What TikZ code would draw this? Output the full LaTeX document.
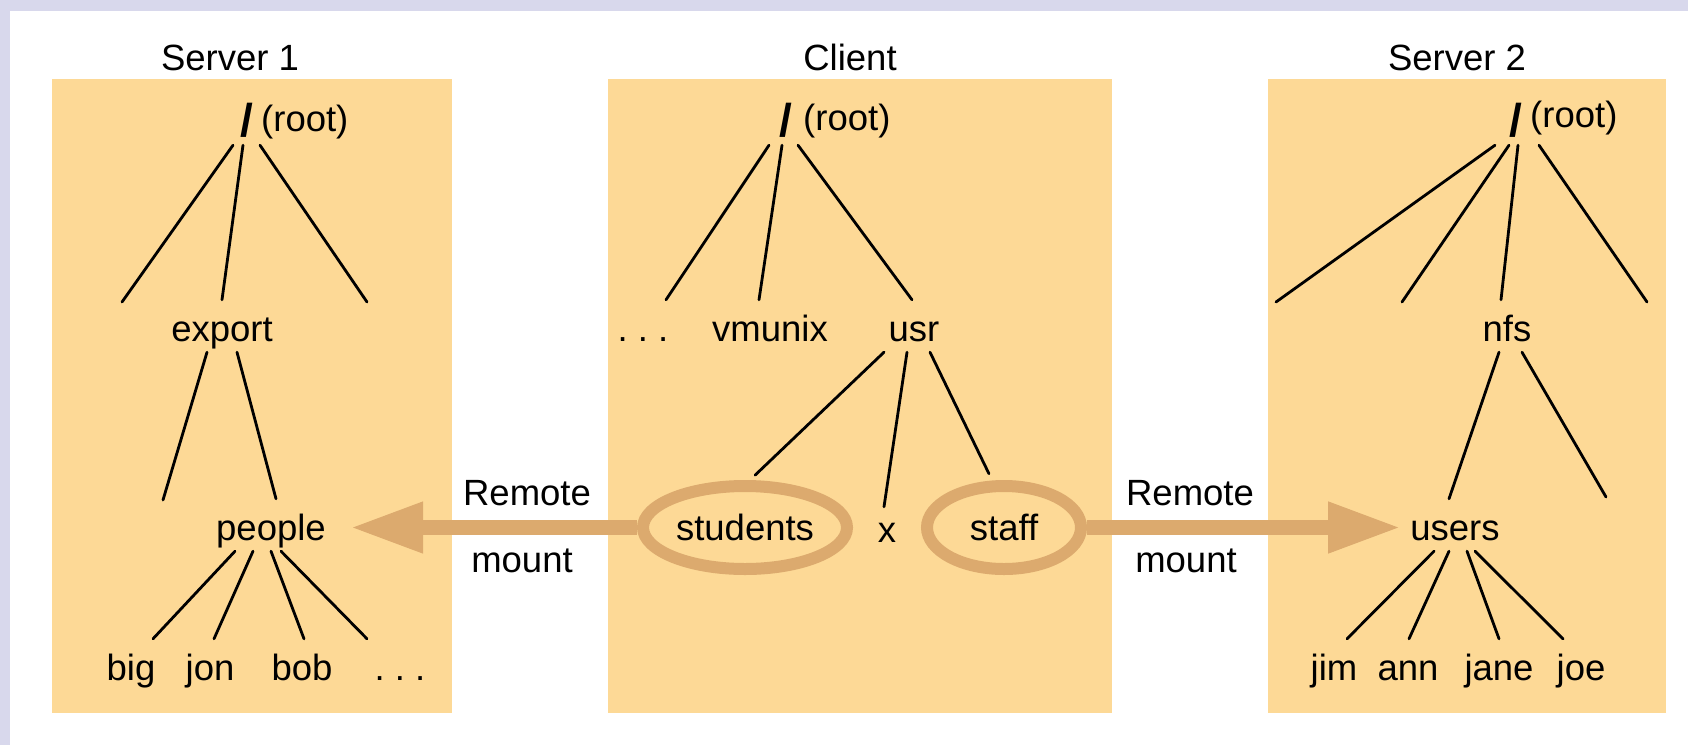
\documentclass[tikz,border=0pt]{standalone}
\usepackage{fontspec}
\setmainfont{Liberation Sans}
\usetikzlibrary{arrows.meta,shapes.geometric}
\definecolor{boxc}{RGB}{253,217,150}
\definecolor{ringc}{RGB}{220,170,110}
\definecolor{bgc}{RGB}{216,216,236}
\newcommand{\lblfont}{\fontsize{36.5}{44}\selectfont}
\newcommand{\slashfont}{\fontsize{46}{50}\selectfont\bfseries}
\begin{document}
\begin{tikzpicture}[x=1pt,y=-1pt,
  title/.style={anchor=base, inner sep=0pt, font=\lblfont},
  lbl/.style={anchor=base, inner xsep=0pt, inner ysep=11pt, text height=30pt, text depth=0pt, font=\lblfont},
  slashnode/.style={anchor=base, inner xsep=0pt, inner ysep=9pt, text height=30pt, text depth=0pt, font=\slashfont},
  rootlbl/.style={anchor=base west, inner sep=0pt, font=\lblfont},
  branch/.style={line width=2.8pt, line cap=round},
  ring/.style={ellipse, draw=ringc, line width=12pt, inner sep=0pt, font=\lblfont},
  mountarrow/.style={draw=ringc, line width=15pt, -{Triangle[length=70pt,width=52pt,line width=1pt]}},
  fsbox/.style={fill=boxc, draw=none}
]
\useasboundingbox (0,0) rectangle (1688,745);
\fill[bgc] (0,0) rectangle (1688,745);
\fill[white] (10,11) rectangle (1688,745);
\fill[fsbox] (52,79) rectangle (452,713);
\fill[fsbox] (608,79) rectangle (1112,713);
\fill[fsbox] (1268,79) rectangle (1666,713);

% titles
\node[title] (t1) at (230,70) {Server 1};
\node[title] (t2) at (850,70) {Client};
\node[title] (t3) at (1457,70) {Server 2};

% roots
\node[slashnode] (r1) at (247,136) {/};
\node[rootlbl] (r1l) at (261,131) {(root)};
\node[slashnode] (r2) at (786,136) {/};
\node[rootlbl] (r2l) at (803,130) {(root)};
\node[slashnode] (r3) at (1516,136) {/};
\node[rootlbl] (r3l) at (1530,127) {(root)};

% Server 1 tree
\node[lbl] (export) at (222,341) {export};
\node[lbl] (people) at (271,540) {people};
\node[lbl] (big) at (131,680) {big};
\node[lbl] (jon) at (210,680) {jon};
\node[lbl] (bob) at (302,680) {bob};
\node[lbl] (s1more) at (400,680) {.\ .\ .};
\coordinate (s1a) at (122,302);
\coordinate (s1b) at (367,302);
\coordinate (s1c) at (163,500);
\draw[branch] ([xshift=-14pt]r1.south) -- (s1a);
\draw[branch] ([xshift=-4pt]r1.south) -- (export.north);
\draw[branch] ([xshift=13pt]r1.south) -- (s1b);
\draw[branch] ([xshift=-15pt]export.south) -- (s1c);
\draw[branch] ([xshift=15pt]export.south) -- ([xshift=5pt]people.north);
\draw[branch] ([xshift=-36pt]people.south) -- ([xshift=22pt]big.north);
\draw[branch] ([xshift=-18pt]people.south) -- ([xshift=4pt]jon.north);
\draw[branch] (people.south) -- ([xshift=2pt]bob.north);
\draw[branch] ([xshift=10pt]people.south) -- ([xshift=-33pt]s1more.north);

% Client tree
\node[lbl] (cmore) at (643,341) {.\ .\ .};
\node[lbl] (vmunix) at (770,341) {vmunix};
\node[lbl] (usr) at (914,341) {usr};
\node[ring, minimum width=204pt, minimum height=83pt] (students) at (745,527.5) {students};
\node[lbl] (x) at (887,542) {x};
\node[ring, minimum width=154pt, minimum height=83pt] (staff) at (1004,527.5) {staff};
\draw[branch] ([xshift=-17pt]r2.south) -- ([xshift=23pt]cmore.north);
\draw[branch] ([xshift=-4pt]r2.south) -- ([xshift=-11pt]vmunix.north);
\draw[branch] ([xshift=12pt]r2.south) -- ([xshift=-2pt]usr.north);
\draw[branch, shorten >=7pt] ([xshift=-30pt]usr.south) -- ([xshift=5pt]students.north);
\draw[branch] ([xshift=-7pt]usr.south) -- ([xshift=-3pt,yshift=-6pt]x.north);
\draw[branch, shorten >=7pt] ([xshift=16pt]usr.south) -- ([xshift=-12pt]staff.north);

% Server 2 tree
\node[lbl] (nfs) at (1507,341) {nfs};
\node[lbl] (users) at (1455,540) {users};
\node[lbl] (jim) at (1334,680) {jim};
\node[lbl] (ann) at (1408,680) {ann};
\node[lbl] (jane) at (1499,680) {jane};
\node[lbl] (joe) at (1581,680) {joe};
\coordinate (s2a) at (1276,302);
\coordinate (s2b) at (1402,302);
\coordinate (s2c) at (1647,302);
\coordinate (s2d) at (1606,497);
\draw[branch] ([xshift=-21pt]r3.south) -- (s2a);
\draw[branch] ([xshift=-7pt]r3.south) -- (s2b);
\draw[branch] ([xshift=2pt]r3.south) -- ([xshift=-6pt]nfs.north);
\draw[branch] ([xshift=23pt]r3.south) -- (s2c);
\draw[branch] ([xshift=-8pt]nfs.south) -- ([xshift=-6pt]users.north);
\draw[branch] ([xshift=15pt]nfs.south) -- (s2d);
\draw[branch] ([xshift=-21pt]users.south) -- ([xshift=13pt]jim.north);
\draw[branch] ([xshift=-6pt]users.south) -- ([xshift=1pt]ann.north);
\draw[branch] ([xshift=12pt]users.south) -- (jane.north);
\draw[branch] ([xshift=20pt]users.south) -- ([xshift=-18pt]joe.north);

% remote mounts
\draw[mountarrow, shorten >=27pt] (students.west) -- (people.east |- students.west);
\draw[mountarrow, shorten >=12pt] (staff.east) -- (users.west |- staff.east);
\node[title] (rm1) at (527,505) {Remote};
\node[title] (mt1) at (522,572) {mount};
\node[title] (rm2) at (1190,505) {Remote};
\node[title] (mt2) at (1186,572) {mount};
\end{tikzpicture}
\end{document}
